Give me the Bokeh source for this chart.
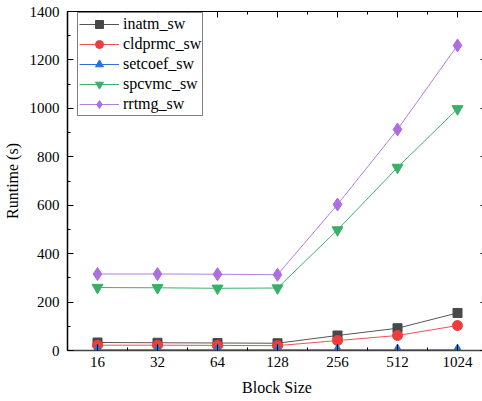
from bokeh.plotting import figure
from bokeh.models import (FixedTicker, SingleIntervalTicker, LinearAxis, Range1d,
                          Legend, LegendItem)
from bokeh.embed import file_html
from bokeh.resources import INLINE

block_sizes = ["16", "32", "64", "128", "256", "512", "1024"]
inatm_sw = [33, 32, 31, 30, 62, 92, 155]
cldprmc_sw = [22, 22, 21, 20, 41, 62, 103]
setcoef_sw = [3, 3, 3, 3, 3, 3, 3]
spcvmc_sw = [260, 259, 257, 258, 498, 756, 998]
rrtmg_sw = [316, 316, 315, 313, 603, 913, 1260]

xs = list(range(1, len(block_sizes) + 1))
FONT = "'Liberation Serif', 'Times New Roman', serif"

p = figure(frame_width=419, frame_height=339, output_backend="svg", toolbar_location=None,
           x_range=Range1d(0.5, 0.5 + 419 / 60), y_range=Range1d(0, 1400),
           min_border_left=55, min_border_right=0, min_border_top=11,
           min_border_bottom=48)
p.grid.visible = False
p.outline_line_color = "black"
p.outline_line_width = 1

# name, values, marker colour, line colour, marker, size
series = [
    ("inatm_sw", inatm_sw, "#484848", "#555555", "square", 9),
    ("cldprmc_sw", cldprmc_sw, "#f03c3c", "#f05050", "circle", 10),
    ("setcoef_sw", setcoef_sw, "#2670e0", "#3070d8", "triangle", 10),
    ("spcvmc_sw", spcvmc_sw, "#38b068", "#40b070", "inverted_triangle", 11),
    ("rrtmg_sw", rrtmg_sw, "#ad6ee0", "#b47ee6", "diamond", 13),
]
items = []
for name, ys, mc, lc, mk, sz in series:
    l = p.line(xs, ys, line_color=lc, line_width=1)
    s = p.scatter(xs, ys, marker=mk, size=sz, fill_color=mc, line_color=mc)
    items.append(LegendItem(label=name, renderers=[l, s]))

legend = Legend(items=items, location=(10, 234))
legend.label_text_font = FONT
legend.label_text_font_size = "16px"
legend.label_text_color = "black"
legend.border_line_color = "black"
legend.border_line_width = 1
legend.glyph_width = 40
legend.glyph_height = 20
legend.label_height = 20
legend.spacing = 0
legend.padding = 1
legend.margin = 0
legend.label_standoff = 4
p.add_layout(legend)

xa = p.below[0]
xa.ticker = FixedTicker(ticks=xs, minor_ticks=[x + 0.5 for x in xs])
xa.major_label_overrides = {x: lab for x, lab in zip(xs, block_sizes)}
xa.axis_label = "Block Size"
ya = p.left[0]
ya.ticker = SingleIntervalTicker(interval=200, num_minor_ticks=2)
ya.axis_label = "Runtime (s)"

for ax in (xa, ya):
    ax.major_tick_in = 6
    ax.major_tick_out = 0
    ax.minor_tick_in = 3
    ax.minor_tick_out = 0
    ax.major_label_text_font = FONT
    ax.major_label_text_font_size = "15px"
    ax.major_label_text_color = "black"
    ax.axis_label_text_font = FONT
    ax.axis_label_text_font_size = "16px"
    ax.axis_label_text_font_style = "normal"
    ax.axis_label_text_color = "black"
    ax.major_tick_line_color = "black"
    ax.minor_tick_line_color = "black"
xa.major_label_standoff = 6
xa.axis_label_standoff = 9
ya.major_label_standoff = 8
ya.axis_label_standoff = 6
xa.axis_line_color = "#444444"
xa.axis_line_width = 1.5
ya.axis_line_color = "black"
ya.axis_line_width = 1.5

top = LinearAxis(ticker=FixedTicker(ticks=xs, minor_ticks=[x + 0.5 for x in xs]))
right = LinearAxis(ticker=SingleIntervalTicker(interval=200, num_minor_ticks=2))
for ax in (top, right):
    ax.major_tick_in = 6
    ax.major_tick_out = 0
    ax.minor_tick_in = 3
    ax.minor_tick_out = 0
    ax.major_label_text_alpha = 0
    ax.major_label_text_font_size = "1px"
    ax.major_label_standoff = 0
    ax.axis_line_color = "black"
    ax.major_tick_line_color = "black"
    ax.minor_tick_line_color = "black"
p.add_layout(top, "above")
p.add_layout(right, "right")

open("out.html", "w").write(file_html(p, INLINE))
